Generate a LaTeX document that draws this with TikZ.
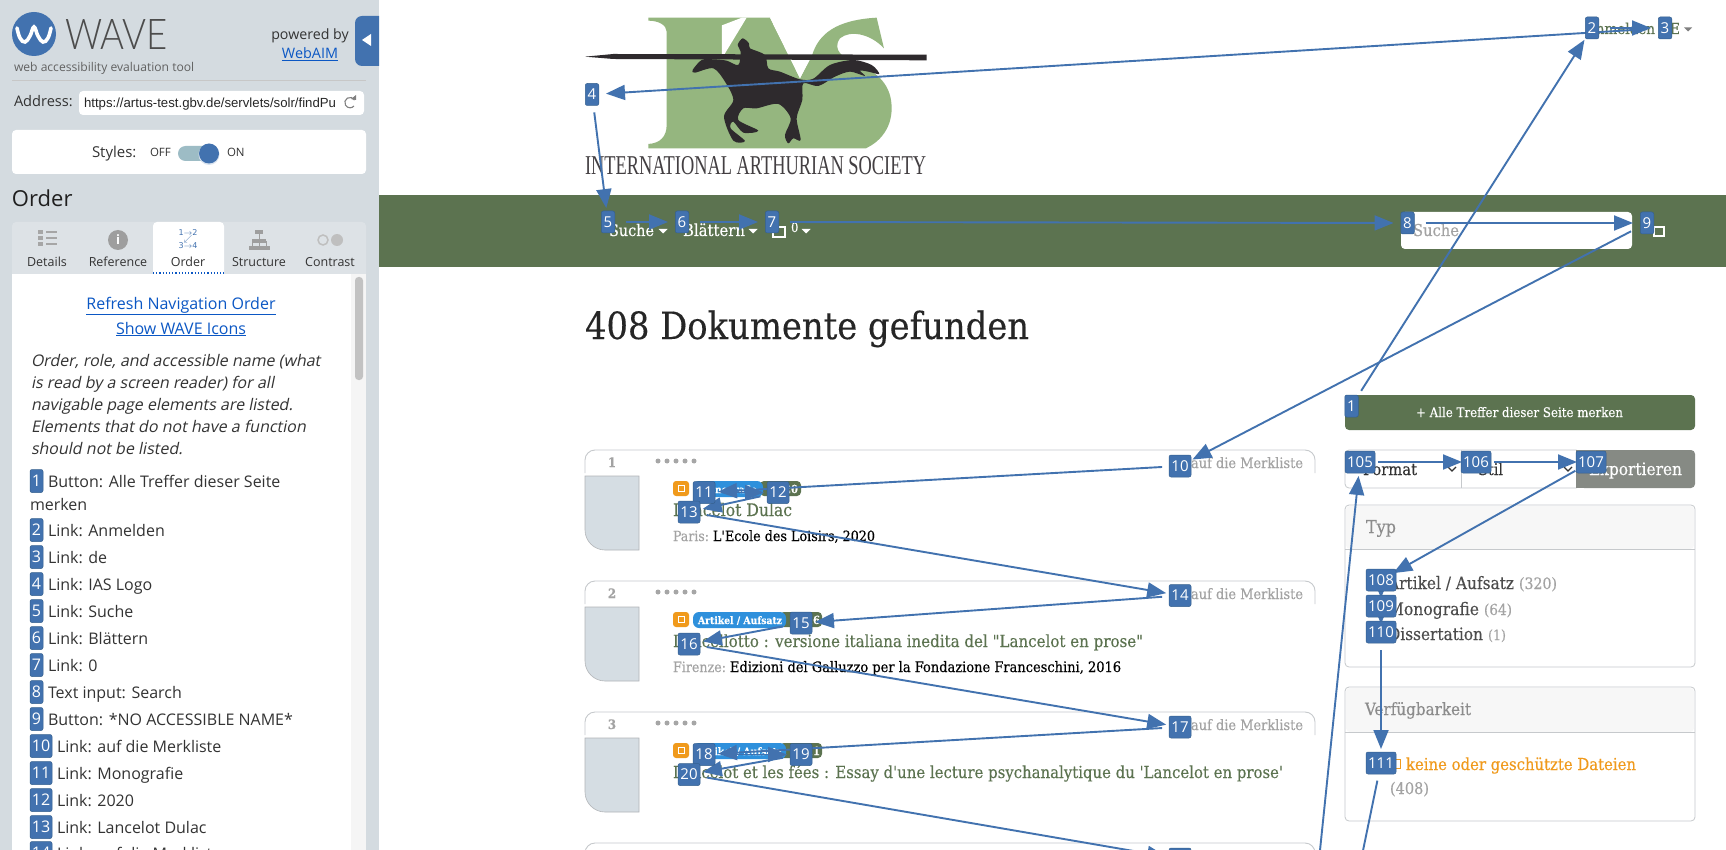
\documentclass[tikz,border=0pt]{standalone}
\usepackage{fontspec}
\usepackage{graphicx}
\usetikzlibrary{arrows.meta}
\setmainfont{Open Sans}
\newfontfamily\mw[FakeBold=0.25]{DejaVu Serif Condensed}
\newfontfamily\lib{Liberation Sans}
\newfontfamily\djs{DejaVu Sans}
\newfontfamily\oslant[FakeSlant=0.2]{Open Sans}
\newfontfamily\wlight[UprightFont=* Light]{Lato}
\definecolor{wblue}{HTML}{4272AF}
\definecolor{wedge}{HTML}{35608F}
\definecolor{side}{HTML}{D4DBE0}
\definecolor{tabbg}{HTML}{DDE2E6}
\definecolor{sage}{HTML}{5C7350}
\definecolor{leaf}{HTML}{95B67F}
\definecolor{ink}{HTML}{2E2A2D}
\definecolor{lnk}{HTML}{0B57C4}
\definecolor{txt}{HTML}{333333}
\definecolor{mut}{HTML}{A3A3A3}
\definecolor{orng}{HTML}{F09A1C}
\definecolor{tagb}{HTML}{2E90DC}
\definecolor{thumbc}{HTML}{D5DDE3}
\definecolor{frame}{HTML}{C6C9CC}
\definecolor{expo}{HTML}{868A84}
\pgfdeclarelayer{page}
\pgfdeclarelayer{arrows}
\pgfsetlayers{page,arrows,main}
\newcounter{tn}
\newcommand{\fs}[1]{\fontsize{#1}{#1}\selectfont}
\newcommand{\fw}[2]{\resizebox{#1pt}{!}{#2}}
% text at baseline: x, y, text
\newcommand{\tx}[4][]{\stepcounter{tn}\node[lbl,#1] (t\arabic{tn}) at (#2,#3) {#4};}
\newcommand{\ar}[2]{\draw[arr] (#1.center) -- (#2.center);}
\tikzset{
  lbl/.style={inner sep=0pt,outer sep=0pt,anchor=base west},
  lblc/.style={inner sep=0pt,outer sep=0pt,anchor=base},
  badge/.style={fill=wblue,draw=wedge,line width=.5pt,rounded corners=2pt,text=white,inner sep=0pt,minimum height=22pt,font=\fs{15}},
  bone/.style={badge,minimum width=13.5pt},
  btwo/.style={badge,minimum width=22pt},
  bthree/.style={badge,minimum width=30pt},
  lone/.style={badge,minimum width=13pt,minimum height=23pt,font=\fs{16}},
  ltwo/.style={badge,minimum width=22pt,minimum height=23pt,font=\fs{16}},
  arr/.style={draw=wblue,line width=1.9pt,-{Triangle[length=19pt,width=15pt]},shorten <=18pt,shorten >=14pt},
  stub/.style={arr,shorten <=0pt,shorten >=8pt},
  panel/.style={draw=frame,line width=.8pt,fill=white,rounded corners=4pt},
  gicon/.style={fill=black!38}
}
\begin{document}
\begin{tikzpicture}[x=1pt,y=-1pt]
\useasboundingbox (0,0) rectangle (1726,850);
\begin{pgfonlayer}{page}
\begin{scope}
\clip (0,0) rectangle (1726,850);
\fill[white] (0,0) rectangle (1726,850);
% ---------- sidebar
\fill[side] (0,0) rectangle (379,850);
\fill[wblue] (34,34) circle (22);
\draw[white,line width=3.6pt,line cap=round] plot[smooth,tension=.7] coordinates {(17,28) (20,38) (25,42) (30,36) (34,27) (38,36) (43,42) (48,38) (51,28)};
\tx[text=black!70,font=\wlight]{65}{50}{\resizebox{103pt}{30pt}{WAVE}}
\tx[text=black!62,font=\fs{12.1}]{14}{72}{web accessibility evaluation tool}
\draw[black!22,line width=.8pt] (12,80.5) -- (366,80.5);
\tx[lblc,text=txt,font=\fs{14.2}]{310}{40}{powered by}
\tx[lblc,text=lnk,font=\fs{14.4}]{310}{59}{\underline{WebAIM}}
\fill[wblue] (379,16) [rounded corners=7pt] -- (355,16) -- (355,66) [sharp corners] -- (379,66) -- cycle;
\fill[white] (362,40) -- (371,34) -- (371,46) -- cycle;
\tx[text=txt,font=\fs{14.6}]{14}{107}{Address:}
\fill[white,rounded corners=4pt] (79,91) rectangle (364,115);
\tx[text=black!85,font=\lib]{84}{108}{\fw{252}{https://artus-test.gbv.de/servlets/solr/findPu}}
\draw[black!50,line width=1.1pt] (354.5,100) arc[start angle=-30,end angle=-320,radius=5.2];
\fill[black!50] (351,99) -- (356,100) -- (356,95) -- cycle;
\fill[white,rounded corners=4pt] (12,130) rectangle (366,174);
\tx[text=txt,font=\fs{15}]{92}{158}{Styles:}
\tx[text=txt,font=\fs{11.5}]{150}{157}{OFF}
\fill[rounded corners=7.5pt,fill={rgb,255:red,157;green,188;blue,197}] (178,146) rectangle (215,161);
\fill[white!80!wblue] (209,154.5) circle (10.5);
\fill[wblue] (209,153.5) circle (10);
\tx[text=txt,font=\fs{11.5}]{227}{157}{ON}
\tx[text=black!88,font=\fs{22}]{12}{207}{Order}
\fill[tabbg,rounded corners=4pt] (12,222) rectangle (366,285);
\fill[white,rounded corners=4pt] (153,222) rectangle (224,285);
\fill[white] (12,274) rectangle (351,850);
\fill[black!4] (351,274) rectangle (366,850);
\fill[black!24,rounded corners=3.5pt] (355,277) rectangle (363,380);
\draw[lnk,line width=1.2pt,dotted] (153,273) -- (224,273);
\foreach \yy in {232,238,244}{\fill[black!35] (38,\yy-2) rectangle (43,\yy+2); \fill[black!35] (46,\yy-1) rectangle (57,\yy+1);}
\fill[black!38] (118,240) circle (10);
\tx[lblc,text=white,font=\bfseries\fs{13}]{118}{245}{i}
\tx[lblc,text=wblue,font=\djs\fs{8}]{188}{236}{1$\to$2}
\tx[lblc,text=wblue,font=\djs\fs{8}]{188}{242}{$\swarrow$}
\tx[lblc,text=wblue,font=\djs\fs{8}]{188}{249}{3$\to$4}
\fill[black!38] (255,230) rectangle (263,234);
\foreach \xx in {249,256,263}{\fill[black!38] (\xx,246) rectangle (\xx+7,250);}
\fill[black!38] (252,239) rectangle (266,243);
\draw[black!38,line width=.8pt] (259,234) -- (259,246) (252.5,250) -- (252.5,241) -- (266.5,241) -- (266.5,250);
\draw[black!25,line width=1.5pt] (323,240) circle (5);
\fill[black!25] (337,240) circle (6);
\foreach \nm/\xx in {Details/47,Reference/118,Order/188,Structure/259,Contrast/330}{\tx[lblc,text=txt,font=\fs{12.5}]{\xx}{267}{\nm}}
\tx[lblc,text=lnk,font=\fs{16}]{181}{309}{\underline{Refresh Navigation Order}}
\tx[lblc,text=lnk,font=\fs{16}]{181}{334}{\underline{Show WAVE Icons}}
\foreach \ss/\yy in {{Order, role, and accessible name (what}/366,{is read by a screen reader) for all}/388,{navigable page elements are listed.}/410,{Elements that do not have a function}/432,{should not be listed.}/454}{\tx[text=txt,font=\oslant\fs{16}]{31}{\yy}{\ss}}
\tx[text=txt,font=\fs{16}]{48}{487}{Button: Alle Treffer dieser Seite}
\tx[text=txt,font=\fs{16}]{30}{510}{merken}
\foreach \ss/\yy in {{Link: Anmelden}/536,{Link: de}/563,{Link: IAS Logo}/590,{Link: Suche}/617,{Link: Blättern}/644,{Link: 0}/671,{Text input: Search}/698,{Button: *NO ACCESSIBLE NAME*}/725}{\tx[text=txt,font=\fs{16}]{48}{\yy}{\ss}}
\foreach \ss/\yy in {{Link: auf die Merkliste}/752,{Link: Monografie}/779,{Link: 2020}/806,{Link: Lancelot Dulac}/833,{Link: auf die Merkliste}/859}{\tx[text=txt,font=\fs{16}]{57}{\yy}{\ss}}
% ---------- logo
\begin{scope}[shift={(570,0)},x=0.3333pt,y=-0.3333pt]
\fill[leaf] (235,53) -- (600,53) -- (690,235) -- (725,170) .. controls (745,100) and (800,60) .. (920,53) -- (942,145) .. controls (900,100) and (840,90) .. (810,115) .. controls (785,150) and (820,175) .. (860,190) .. controls (930,220) and (965,260) .. (965,325) .. controls (965,385) and (930,425) .. (888,445) -- (235,445) -- (235,432) .. controls (270,430) and (290,410) .. (290,375) -- (290,95) .. controls (290,75) and (265,62) .. (235,62) -- cycle;
\fill[white] (456,76) -- (516,53) -- (530,53) -- (456,175) -- cycle;
\fill[white] (600,53) -- (612,53) -- (720,175) -- (690,235) -- cycle;
\fill[ink] plot[smooth cycle,tension=.5] coordinates {(368,210) (395,180) (430,178) (470,182) (505,195) (512,155) (503,135) (518,115) (537,130) (540,145) (585,165) (595,205) (630,215) (690,238) (730,236) (780,195) (850,180) (905,195) (928,222) (895,215) (870,212) (885,228) (840,215) (795,230) (745,258) (700,250) (697,300) (680,355) (692,420) (670,415) (655,430) (645,405) (662,355) (625,312) (560,325) (520,325) (505,360) (565,392) (520,398) (490,365) (482,385) (525,423) (490,422) (462,350) (490,300) (465,245) (430,205) (375,218)};
\fill[ink] (45,170) -- (130,162) -- (1070,164) -- (1070,181) -- (130,177) -- cycle;
\end{scope}
\node[lbl,font=\fontspec{Liberation Serif},text=ink!90] (logotext) at (585,175) {\resizebox{341pt}{18pt}{INTERNATIONAL ARTHURIAN SOCIETY}};
% ---------- nav bar
\fill[sage] (379,195) rectangle (1726,267);
\tx[text=white,font=\mw]{609}{236}{\fw{45}{Suche}}
\tx[text=white,font=\mw]{683}{236}{\fw{62}{Blättern}}
\tx[text=white,font=\mw\fs{13}]{791}{232}{0}
\foreach \xx in {663,753,806}{\fill[white] (\xx-4.5,229) -- (\xx+4.5,229) -- (\xx,233.5) -- cycle;}
\draw[white,line width=1.2pt] (773,227) rectangle (785,237);
\fill[white,rounded corners=4pt] (1401,212) rectangle (1632,249);
\tx[text=mut,font=\mw]{1413}{236}{\fw{46}{Suche}}
\draw[white,line width=1.2pt] (1654,227) rectangle (1664,236);
\tx[text=sage,font=\mw]{1586}{34}{\fw{69}{Anmelden}}
\tx[text=sage,font=\mw]{1659}{34}{\fw{21}{DE}}
\fill[black!50] (1684,27.5) -- (1692,27.5) -- (1688,31.5) -- cycle;
% ---------- heading
\tx[text=black!85,font=\mw]{585}{339}{\fw{444}{408 Dokumente gefunden}}
% ---------- cards
\foreach \oo in {0,131,262,393}{
\begin{scope}[shift={(0,\oo)}]
\draw[frame,line width=.9pt,rounded corners=10pt] (585,473) -- (585,450) -- (1315,450) -- (1315,473);
\tx[text=mut,font=\mw]{1191}{468}{\fw{112}{auf die Merkliste}}
\ifnum\oo<393
\draw[frame!90!black,fill=thumbc,line width=.6pt] (585,476) -- (639,476) -- (639,550) -- (605,550) .. controls (594,550) and (585,541) .. (585,530) -- cycle;
\foreach \xx in {658,667,676,685,694}{\fill[black!35] (\xx,461) circle (2.5);}
\fill[orng,rounded corners=3pt] (673,481) rectangle (689,496);
\draw[white,line width=1pt] (678,485) rectangle (684.5,491);
\fi
\end{scope}}
\tx[lblc,text=mut,font=\mw\bfseries\fs{13}]{612}{467}{1}
\tx[lblc,text=mut,font=\mw\bfseries\fs{13}]{612}{598}{2}
\tx[lblc,text=mut,font=\mw\bfseries\fs{13}]{612}{729}{3}
\fill[sage,rounded corners=4pt] (760,481) rectangle (801,496);
\fill[tagb,rounded corners=6pt] (693,481) rectangle (763,497);
\tx[text=white,font=\mw\bfseries]{699}{493}{\fw{58}{Monografie}}
\tx[text=white,font=\mw\bfseries]{770}{493}{\fw{28}{2020}}
\tx[text=sage,font=\mw]{673}{516}{\fw{119}{Lancelot Dulac}}
\tx[text=mut,font=\mw]{673}{541}{\fw{36}{Paris:}}
\tx[text=black,font=\mw]{713}{541}{\fw{162}{L'Ecole des Loisirs, 2020}}
\fill[sage,rounded corners=4pt] (780,612) rectangle (822,627);
\fill[tagb,rounded corners=6pt] (693,612) rectangle (786,628);
\tx[text=white,font=\mw\bfseries]{698}{624}{\fw{84}{Artikel / Aufsatz}}
\tx[text=white,font=\mw\bfseries]{792}{624}{\fw{28}{2016}}
\tx[text=sage,font=\mw]{673}{647}{\fw{470}{Lancellotto : versione italiana inedita del "Lancelot en prose"}}
\tx[text=mut,font=\mw]{673}{672}{\fw{53}{Firenze:}}
\tx[text=black,font=\mw]{730}{672}{\fw{391}{Edizioni del Galluzzo per la Fondazione Franceschini, 2016}}
\fill[sage,rounded corners=4pt] (780,743) rectangle (822,758);
\fill[tagb,rounded corners=6pt] (693,743) rectangle (786,759);
\tx[text=white,font=\mw\bfseries]{698}{755}{\fw{84}{Artikel / Aufsatz}}
\tx[text=white,font=\mw\bfseries]{792}{755}{\fw{28}{2011}}
\tx[text=sage,font=\mw]{673}{778}{\fw{610}{Lancelot et les fées : Essay d'une lecture psychanalytique du 'Lancelot en prose'}}
% ---------- right column
\fill[sage,rounded corners=4pt] (1345,395) rectangle (1695,430);
\tx[text=white,font=\mw]{1416}{417}{\fw{207}{+ Alle Treffer dieser Seite merken}}
\draw[frame,line width=.8pt,fill=white,rounded corners=4pt] (1345,450) rectangle (1580,488);
\draw[frame,line width=.8pt] (1461,450) -- (1461,488);
\fill[expo,rounded corners=4pt] (1580,450) rectangle (1695,488);
\fill[expo] (1576,450) rectangle (1590,488);
\tx[text=black!80,font=\mw]{1363}{475}{\fw{54}{Format}}
\tx[text=black!80,font=\mw]{1478}{475}{\fw{25}{Stil}}
\draw[black!80,line width=1.2pt] (1448,467) -- (1452,471) -- (1456,467);
\draw[black!80,line width=1.2pt] (1564,467) -- (1568,471) -- (1572,467);
\tx[text=white,font=\mw]{1589}{475}{\fw{93}{Exportieren}}
\draw[panel] (1345,505) rectangle (1695,667);
\fill[black!3,rounded corners=4pt] (1346,506) rectangle (1694,549);
\draw[frame,line width=.8pt] (1345,549) -- (1695,549);
\tx[text=black!45,font=\mw]{1366}{533}{\fw{30}{Typ}}
\tx[text=black!70,font=\mw]{1388}{589}{\fw{126}{Artikel / Aufsatz}}
\tx[text=mut,font=\mw]{1519}{589}{\fw{38}{(320)}}
\tx[text=black!70,font=\mw]{1388}{615}{\fw{91}{Monografie}}
\tx[text=mut,font=\mw]{1484}{615}{\fw{28}{(64)}}
\tx[text=black!70,font=\mw]{1388}{640}{\fw{95}{Dissertation}}
\tx[text=mut,font=\mw]{1488}{640}{\fw{18}{(1)}}
\draw[panel] (1345,687) rectangle (1695,821);
\fill[black!3,rounded corners=4pt] (1346,688) rectangle (1694,732);
\draw[frame,line width=.8pt] (1345,732) -- (1695,732);
\tx[text=black!45,font=\mw]{1365}{715}{\fw{106}{Verfügbarkeit}}
\draw[orng,line width=1pt] (1395,759) rectangle (1400,768);
\tx[text=orng,font=\mw]{1406}{770}{\fw{230}{keine oder geschützte Dateien}}
\tx[text=mut,font=\mw]{1390}{794}{\fw{39}{(408)}}
\end{scope}
\end{pgfonlayer}
% ---------- sidebar list badges
\node[lone] (l1) at (36.5,481) {1};
\node[lone] (l2) at (36.5,530) {2};
\node[lone] (l3) at (36.5,557) {3};
\node[lone] (l4) at (36.5,584) {4};
\node[lone] (l5) at (36.5,611) {5};
\node[lone] (l6) at (36.5,638) {6};
\node[lone] (l7) at (36.5,665) {7};
\node[lone] (l8) at (36.5,692) {8};
\node[lone] (l9) at (36.5,719) {9};
\node[ltwo] (l10) at (41,746) {10};
\node[ltwo] (l11) at (41,773) {11};
\node[ltwo] (l12) at (41,800) {12};
\node[ltwo] (l13) at (41,827) {13};
\node[ltwo] (l14) at (41,853) {14};
% ---------- page badges
\node[bone] (n1) at (1351.5,406) {1};
\node[bone] (n2) at (1592,28) {2};
\node[bone] (n3) at (1665,28) {3};
\node[bone] (n4) at (592,94.5) {4};
\node[bone] (n5) at (608,222) {5};
\node[bone] (n6) at (682,222) {6};
\node[bone] (n7) at (772,222) {7};
\node[bone] (n8) at (1407.5,223) {8};
\node[bone] (n9) at (1647,223) {9};
\node[btwo] (n10) at (1180,466) {10};
\node[btwo] (n11) at (704,492.5) {11};
\node[btwo] (n12) at (778,492.5) {12};
\node[btwo] (n13) at (689,512) {13};
\node[btwo] (n14) at (1180,595.5) {14};
\node[btwo] (n15) at (801,623) {15};
\node[btwo] (n16) at (689,644) {16};
\node[btwo] (n17) at (1180,727) {17};
\node[btwo] (n18) at (704,754.5) {18};
\node[btwo] (n19) at (801,754.5) {19};
\node[btwo] (n20) at (689,774.5) {20};
\node[btwo] (n21) at (1180,859) {};
\node[bthree] (n105) at (1360,462) {105};
\node[bthree] (n106) at (1476,462) {106};
\node[bthree] (n107) at (1591,462) {107};
\node[bthree] (n108) at (1381,580) {108};
\node[bthree] (n109) at (1381,606) {109};
\node[bthree] (n110) at (1381,632) {110};
\node[bthree] (n111) at (1381,763) {111};
\coordinate (prev) at (1316,889);
\coordinate (next) at (1352,904);
\begin{pgfonlayer}{arrows}
\begin{scope}
\clip (0,0) rectangle (1726,850);
\ar{n1}{n2}\ar{n2}{n3}\ar{n3}{n4}\ar{n4}{n5}\ar{n5}{n6}\ar{n6}{n7}\ar{n7}{n8}\ar{n8}{n9}\ar{n9}{n10}
\ar{n10}{n11}\ar{n11}{n12}\ar{n12}{n13}\ar{n13}{n14}\ar{n14}{n15}\ar{n15}{n16}\ar{n16}{n17}
\ar{n17}{n18}\ar{n18}{n19}\ar{n19}{n20}\ar{n20}{n21}
\ar{prev}{n105}\ar{n105}{n106}\ar{n106}{n107}\ar{n107}{n108}
\draw[stub] (n108.center) -- (n109.center);
\draw[stub] (n109.center) -- (n110.center);
\ar{n110}{n111}\ar{n111}{next}
\end{scope}
\end{pgfonlayer}
\end{tikzpicture}
\end{document}
